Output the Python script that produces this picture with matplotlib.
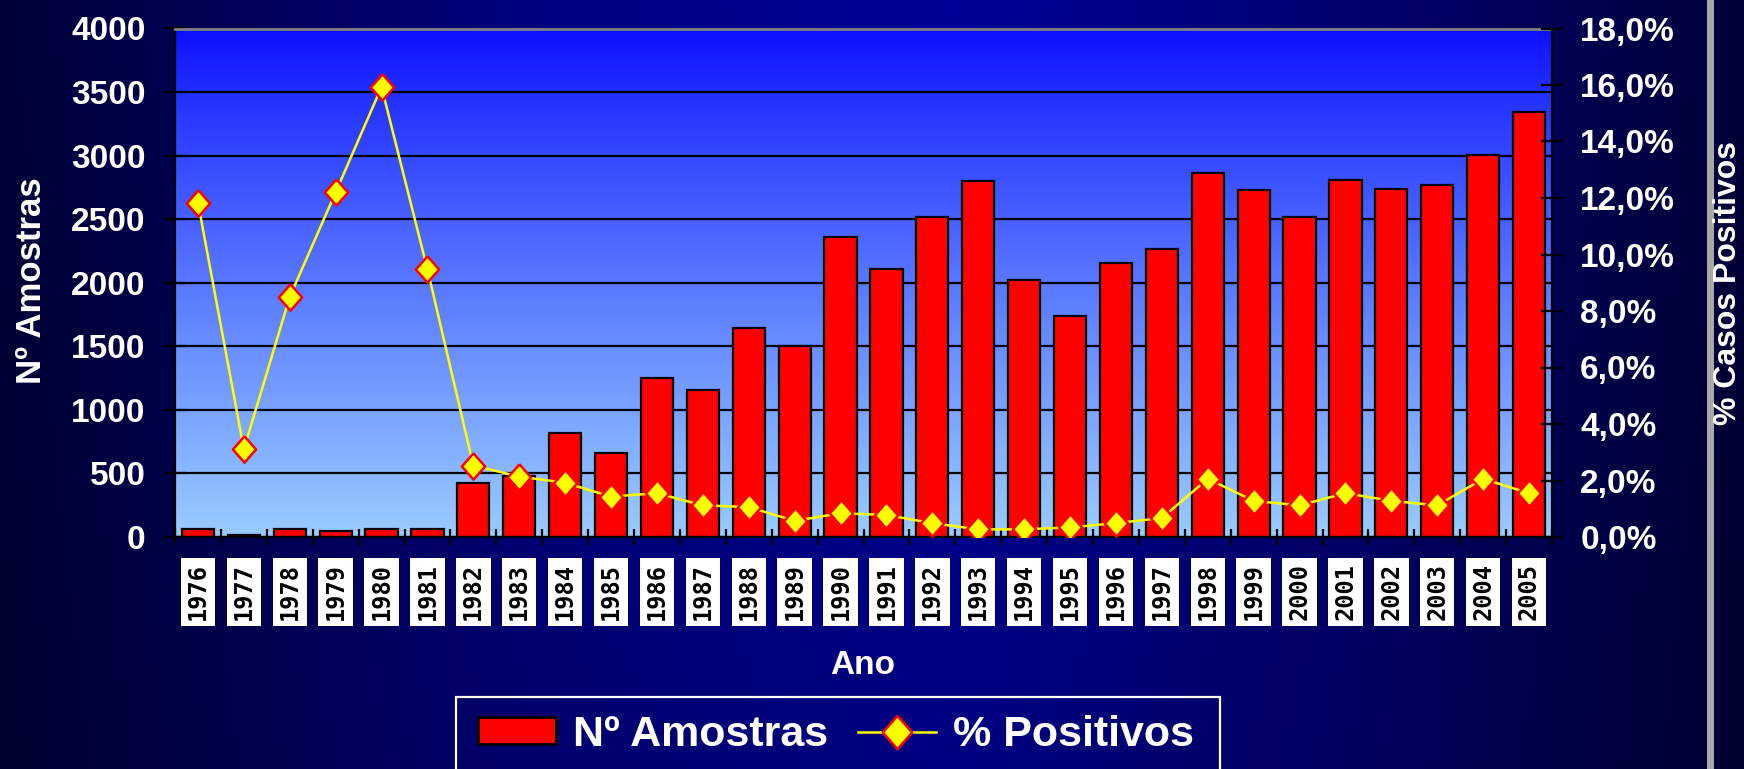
import matplotlib
matplotlib.use("Agg")
import matplotlib.pyplot as plt
import numpy as np
from matplotlib.patches import Rectangle, Patch
from matplotlib.lines import Line2D
from matplotlib.ticker import FuncFormatter

plt.rcParams['font.family'] = ['Liberation Sans', 'DejaVu Sans']
plt.rcParams['font.weight'] = 'bold'

# dados
anos = ['1976', '1977', '1978', '1979', '1980', '1981', '1982', '1983', '1984', '1985',
        '1986', '1987', '1988', '1989', '1990', '1991', '1992', '1993', '1994', '1995',
        '1996', '1997', '1998', '1999', '2000', '2001', '2002', '2003', '2004', '2005']
amostras = [65, 16, 65, 46, 65, 65, 423, 480, 816, 657,
            1250, 1158, 1643, 1500, 2363, 2112, 2519, 2799, 2018, 1735,
            2155, 2268, 2864, 2728, 2521, 2806, 2741, 2771, 3007, 3341]
positivos = [11.84, 3.11, 8.50, 12.20, 15.93, 9.47, 2.53, 2.14, 1.92, 1.43,
             1.55, 1.12, 1.06, 0.57, 0.84, 0.78, 0.49, 0.27, 0.27, 0.34,
             0.49, 0.67, 2.06, 1.28, 1.12, 1.55, 1.28, 1.12, 2.06, 1.55]

W, H = 1744, 769
fig = plt.figure(figsize=(W / 100, H / 100), dpi=100)

# fundo da figura (degradê azul escuro)
bg = fig.add_axes([0, 0, 1, 1], zorder=-10)
gx = np.linspace(0, 1, 400)
prof = np.interp(gx, [0, 0.3, 0.55, 0.8, 1.0], [0.22, 0.5, 0.6, 0.42, 0.22])
gy = np.linspace(0, 1, 100)[:, None]
blue = prof[None, :] * (0.85 + 0.15 * gy[::-1])
img = np.zeros((100, 400, 3))
img[..., 2] = blue
bg.imshow(img, extent=(0, 1, 0, 1), aspect='auto')
bg.set_xlim(0, 1)
bg.set_ylim(0, 1)
bg.axis('off')

# barra cinza à direita
fig.patches.append(Rectangle((1707 / W, 0), 7 / W, 1, transform=fig.transFigure,
                             facecolor='#a8a8a8', edgecolor='none', zorder=-5))

left, right, top, bottom = 175 / W, 1552 / W, 1 - 28.5 / H, 1 - 537 / H
ax = fig.add_axes([left, bottom, right - left, top - bottom])

# degradê da área do gráfico
t = np.linspace(0, 1, 256)[:, None] ** 0.85
c_top = np.array([8, 14, 255]) / 255
c_bot = np.array([153, 204, 255]) / 255
grad = (c_top[None, None, :] * (1 - t[..., None]) + c_bot[None, None, :] * t[..., None])
grad = np.repeat(grad, 2, axis=1)
ax.imshow(grad, extent=(0, 1, 0, 1), transform=ax.transAxes, aspect='auto', zorder=0)

x = np.arange(len(anos))
ax.bar(x, amostras, width=0.7, color='#ff0000', edgecolor='black', linewidth=1.6, zorder=2)

ax.set_xlim(-0.5, len(anos) - 0.5)
ax.set_ylim(0, 4000)
ax.set_yticks(np.arange(0, 4001, 500))
ax.set_axisbelow(True)
ax.yaxis.grid(True, color='black', linewidth=1.6)

ax.set_xticks(np.arange(-0.5, len(anos), 1))
ax.set_xticklabels([])
ax.set_xticks(x, minor=True)
ax.set_xticklabels(anos, minor=True, rotation=90, family='DejaVu Sans Mono',
                   fontsize=17, fontweight='bold', color='black',
                   bbox=dict(boxstyle='square,pad=0.22', facecolor='white', edgecolor='none'))
ax.tick_params(axis='x', which='major', direction='inout', length=11.5, width=1.6, color='black')
ax.tick_params(axis='x', which='minor', length=0, pad=19)
ax.tick_params(axis='y', direction='inout', length=16.5, width=1.6, color='black',
               labelcolor='white', labelsize=24, pad=13)

for s in ['left', 'bottom']:
    ax.spines[s].set_color('black')
    ax.spines[s].set_linewidth(1.6)
ax.spines['top'].set_color('#808080')
ax.spines['top'].set_linewidth(2)
ax.spines['right'].set_visible(False)

ax2 = ax.twinx()
diamante = [(0, 1), (0.88, 0), (0, -1), (-0.88, 0), (0, 1)]
ax2.plot(x, np.array(positivos) / 100, color='#ffff00', linewidth=1.8,
         marker=diamante, markersize=19, markerfacecolor='#ffff00',
         markeredgecolor='#ff0000', markeredgewidth=1.8, zorder=3)
ax2.set_ylim(0, 0.18)
ax2.set_yticks(np.arange(0, 0.181, 0.02))
ax2.yaxis.set_major_formatter(FuncFormatter(lambda v, p: f'{v * 100:.1f}%'.replace('.', ',')))
ax2.tick_params(axis='y', direction='inout', length=16.5, width=1.6, color='black',
                labelcolor='white', labelsize=24, pad=12)
for s in ['left', 'bottom', 'top']:
    ax2.spines[s].set_visible(False)
ax2.spines['right'].set_color('black')
ax2.spines['right'].set_linewidth(1.6)

# títulos dos eixos
fig.text(31.5 / W, 1 - 281 / H, 'Nº Amostras', rotation=90, ha='center', va='center',
         color='white', fontsize=25, fontweight='bold')
fig.text(1728 / W, 1 - 283 / H, '% Casos Positivos', rotation=90, ha='center', va='center',
         color='white', fontsize=23, fontweight='bold')
fig.text(863 / W, 1 - 665 / H, 'Ano', ha='center', va='center',
         color='white', fontsize=24, fontweight='bold')

# legenda
fig.patches.append(Rectangle((456 / W, -0.1), (1220 - 456) / W, 0.1 + 1 - 697 / H,
                             transform=fig.transFigure, facecolor='none',
                             edgecolor='white', linewidth=1.6, zorder=5))
handles = [Patch(facecolor='#ff0000', edgecolor='black', linewidth=2),
           Line2D([0], [0], color='#ffff00', linewidth=1.8, marker=diamante, markersize=24,
                  markerfacecolor='#ffff00', markeredgecolor='#ff0000', markeredgewidth=1.8)]
fig.legend(handles, ['Nº Amostras', '% Positivos'], loc='center',
           bbox_to_anchor=(836 / W, 1 - 735 / H), ncol=2, frameon=False,
           prop={'size': 31, 'weight': 'bold'}, labelcolor='white',
           handlelength=1.8, handleheight=0.6, handletextpad=0.4, columnspacing=0.7)

fig.savefig('out.png', dpi=100)
